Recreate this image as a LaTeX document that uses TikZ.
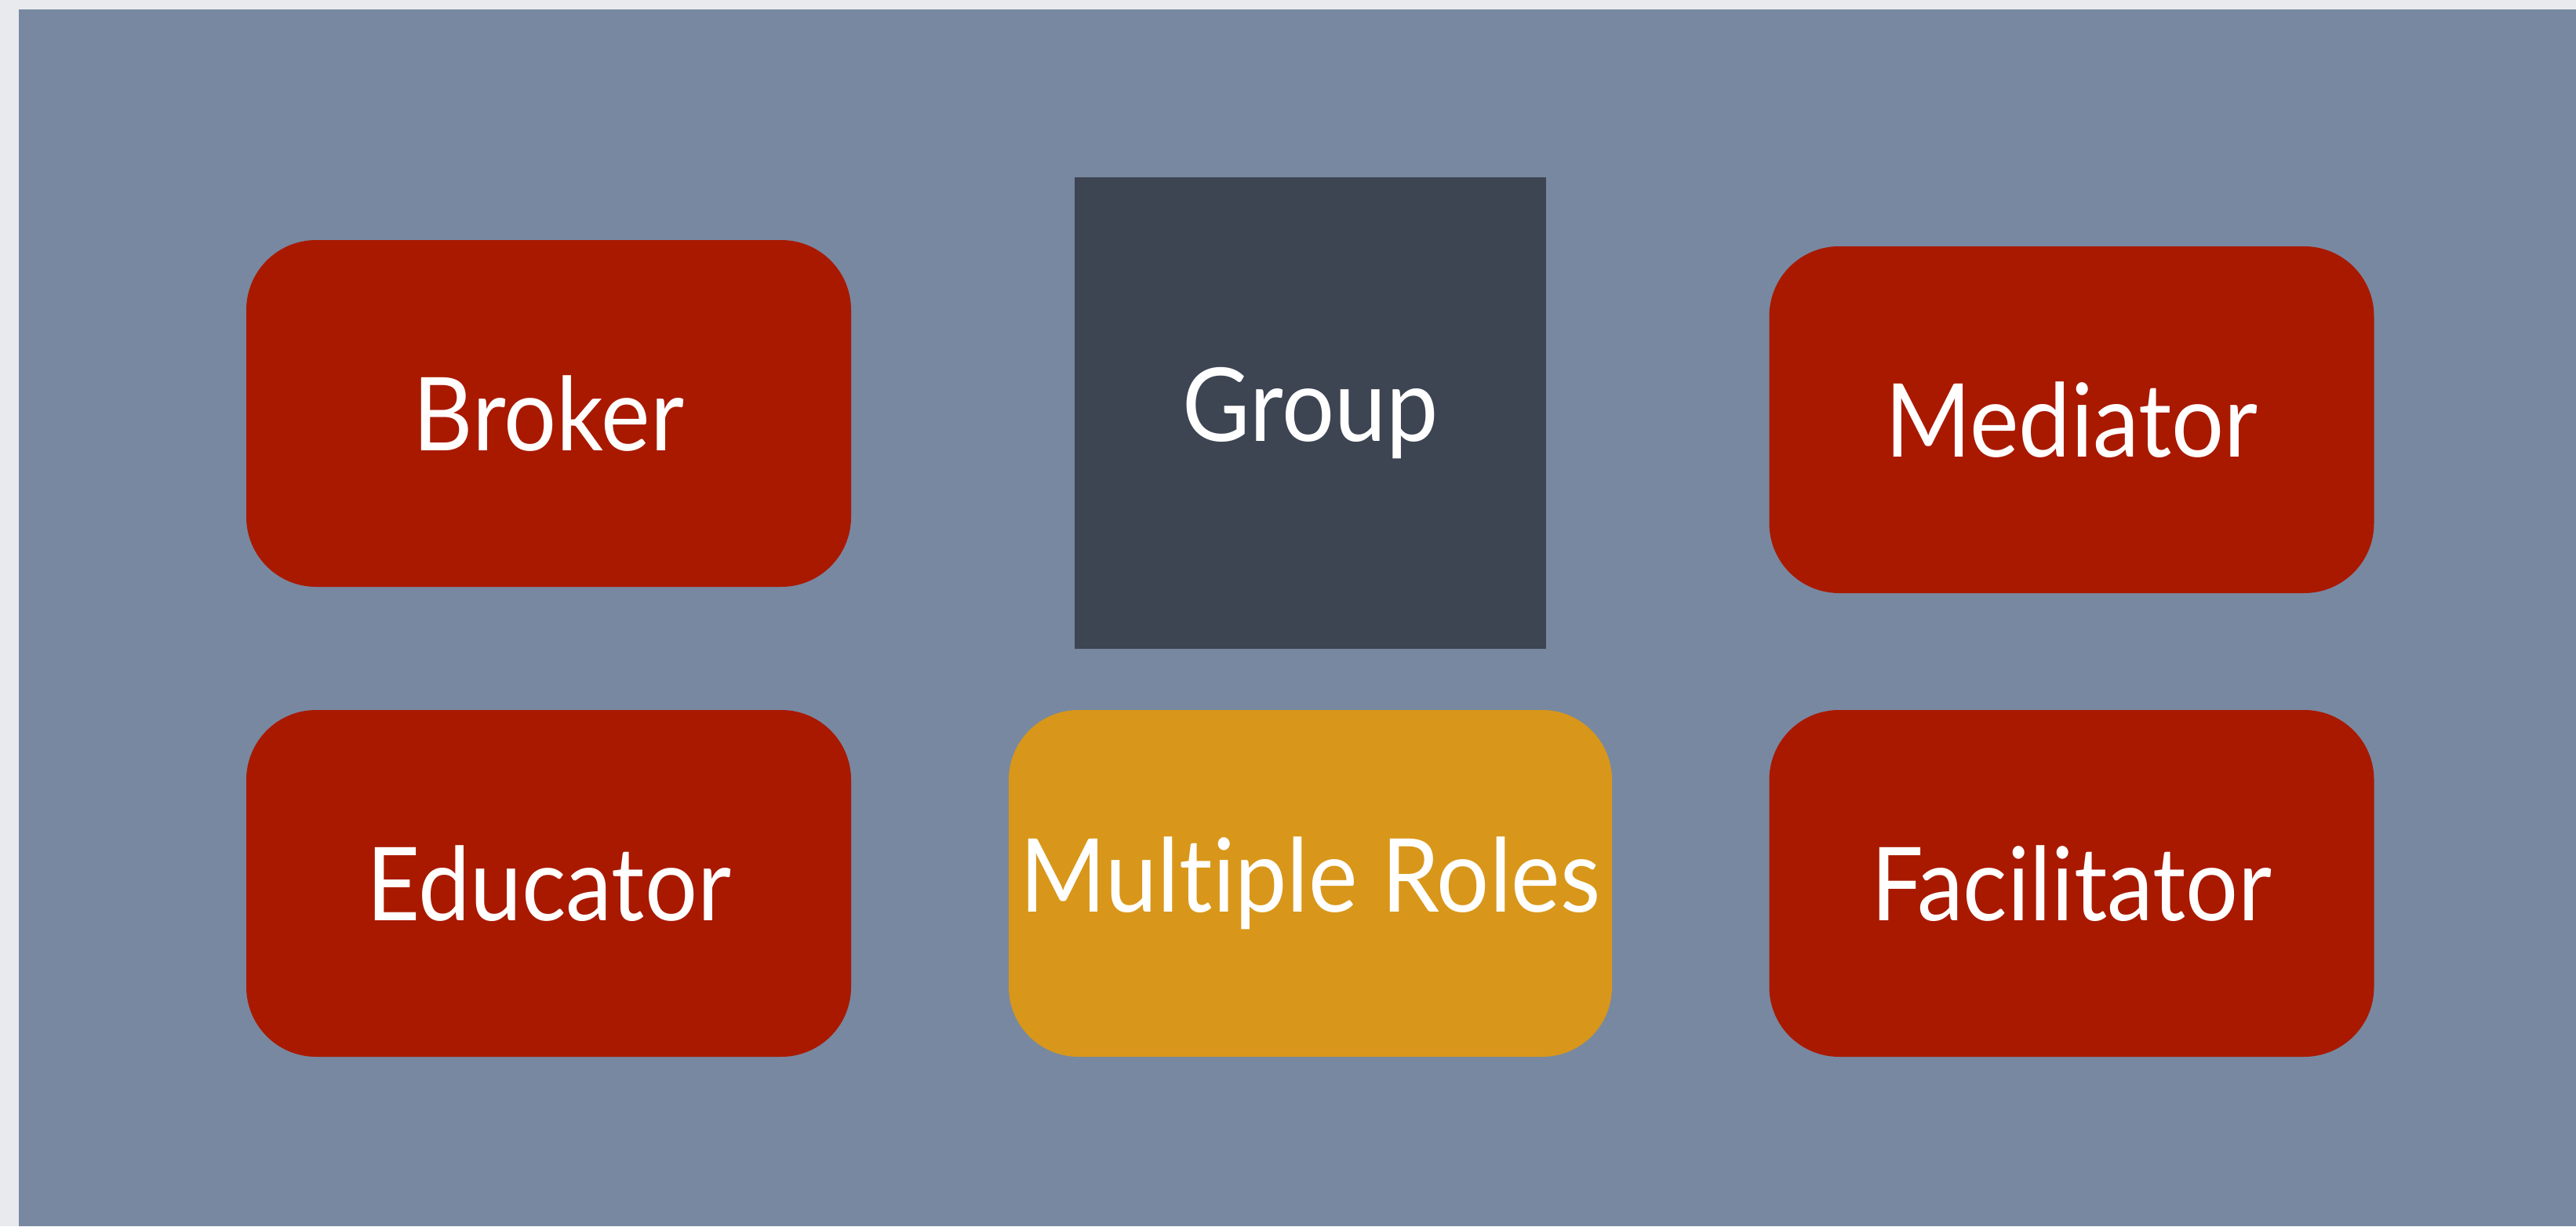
\documentclass[tikz,border=0pt]{standalone}
\usepackage{graphicx}
\usepackage{fontspec}
\setmainfont{Lato}[Ligatures=NoCommon, Contextuals=NoAlternate]
\usetikzlibrary{positioning}
\definecolor{slate}{HTML}{7888A0}
\definecolor{paper}{HTML}{E8EAEE}
\definecolor{rolered}{HTML}{A91900}
\definecolor{rolegold}{HTML}{D8971A}
\definecolor{groupgrey}{HTML}{3D4452}
\newcommand{\lbl}[1]{\scalebox{0.91}[1]{#1}}
\tikzset{
  role/.style={fill=rolered, text=white, rounded corners=0.89cm, inner sep=0pt,
    minimum width=7.71cm, minimum height=4.42cm, font=\fontsize{37}{44}\selectfont},
  multi/.style={role, fill=rolegold},
  groupbox/.style={fill=groupgrey, text=white, inner sep=0pt,
    minimum width=6.01cm, minimum height=6.01cm, font=\fontsize{37}{44}\selectfont}
}
\begin{document}
\begin{tikzpicture}
		%%%%% BACKGROUND %%%%%
		\fill[paper] (0, 0) rectangle (32.84, 15.63);
		\fill[slate] (0.24, 0) rectangle (32.84, 15.51);
		\useasboundingbox (0, 0) rectangle (32.84, 15.63);
		
		%%%%% TOP ROW %%%%%
		\node[role] (broker) at (6.995, 10.36) {\lbl{Broker}};
		\node[groupbox] (group) at (16.705, 10.365) {\lbl{Group}};
		\node[role] (mediator) at (26.41, 10.28) {\lbl{Mediator}};
		
		%%%%% BOTTOM ROW %%%%%
		\node[role] (educator) at (6.995, 4.37) {\lbl{Educator}};
		\node[multi, minimum width=7.69cm] (multiple) at (16.705, 4.37) {\lbl{Multiple Roles}};
		\node[role] (facilitator) at (26.41, 4.37) {\lbl{Facilitator}};
\end{tikzpicture}
\end{document}
